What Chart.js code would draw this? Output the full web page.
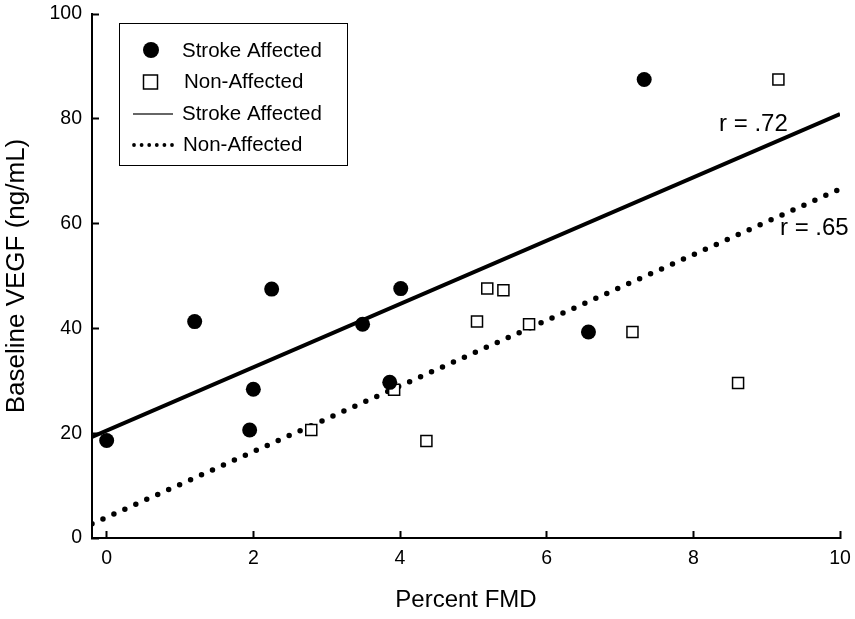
<!DOCTYPE html>
<html lang="en">
<head>
<meta charset="UTF-8">
<title>Baseline VEGF vs Percent FMD</title>
<script src="https://cdn.jsdelivr.net/npm/chart.js"></script>
<style>
    body { margin: 0; background: #fff; }
</style>
</head>
<body>
<div style="width: 855px; height: 619px;">
    <canvas id="myChart" width="855" height="619"></canvas>
</div>
<script>
    // points
    const strokeX = [0, 1.2, 1.95, 2.0, 2.25, 3.49, 3.86, 4.01, 6.57, 7.33];
    const strokeY = [18.6, 41.3, 20.6, 28.4, 47.5, 40.8, 29.7, 47.6, 39.3, 87.5];
    const nonX = [2.79, 3.92, 4.36, 5.05, 5.19, 5.41, 5.76, 7.17, 8.61, 9.16];
    const nonY = [20.6, 28.3, 18.5, 41.3, 47.6, 47.3, 40.8, 39.3, 29.6, 87.5];

    // regression lines, start and end
    const fitX = [-0.2, 10];
    const strokeFitY = [19.3, 80.9];
    const nonFitY = [2.7, 66.6];

    const xTicks = [0, 2, 4, 6, 8, 10];
    const yTicks = [0, 20, 40, 60, 80, 100];

    // r labels
    const rLabels = ['r = .72', 'r = .65'];
    const rX = [8.82, 9.65];
    const rY = [79.0, 59.0];

    const FONT = '"Liberation Sans", Arial, sans-serif';

    function toPoints(xs, ys) {
        return xs.map((x, i) => ({ x: x, y: ys[i] }));
    }

    // legend box + r labels
    const extras = {
        id: 'extras',
        afterDatasetsDraw(chart) {
            const ctx = chart.ctx;
            const sx = chart.scales.x;
            const sy = chart.scales.y;
            const ds = chart.data.datasets;
            ctx.save();
            ctx.fillStyle = '#000';
            ctx.textAlign = 'center';
            ctx.textBaseline = 'middle';
            ctx.font = '24px ' + FONT;
            rLabels.forEach((t, i) => {
                ctx.fillText(t, sx.getPixelForValue(rX[i]), sy.getPixelForValue(rY[i]));
            });

            // legend
            ctx.strokeStyle = '#000';
            ctx.lineWidth = 1;
            ctx.strokeRect(119.5, 23.5, 228, 142);

            ctx.beginPath();
            ctx.arc(151, 50, 8, 0, Math.PI * 2);
            ctx.fill();

            ctx.lineWidth = 1.5;
            ctx.strokeRect(143.5, 75, 14, 14);

            ctx.strokeStyle = '#333';
            ctx.lineWidth = 1.5;
            ctx.beginPath();
            ctx.moveTo(133, 114);
            ctx.lineTo(173, 114);
            ctx.stroke();

            for (let i = 0; i < 6; i++) {
                ctx.beginPath();
                ctx.arc(134 + i * 7.6, 145, 1.9, 0, Math.PI * 2);
                ctx.fill();
            }

            ctx.textAlign = 'left';
            ctx.font = '20.5px ' + FONT;
            ctx.fillText(ds[0].label, 182, 51);
            ctx.fillText(ds[1].label, 184, 82);
            ctx.fillText(ds[2].label, 182, 114);
            ctx.fillText(ds[3].label, 183, 145);
            ctx.restore();
        }
    };

    function drawChart(tag) {
        const ctx = document.getElementById(tag);

        const data = {
            datasets: [
                {
                    label: 'Stroke Affected',
                    data: toPoints(strokeX, strokeY),
                    pointStyle: 'circle',
                    pointRadius: 7.5,
                    backgroundColor: '#000',
                    borderWidth: 0
                },
                {
                    label: 'Non-Affected',
                    data: toPoints(nonX, nonY),
                    pointStyle: 'rect',
                    pointRadius: 7.8,
                    backgroundColor: '#fff',
                    borderColor: '#000',
                    borderWidth: 1.5
                },
                {
                    label: 'Stroke Affected',
                    data: toPoints(fitX, strokeFitY),
                    showLine: true,
                    pointRadius: 0,
                    borderColor: '#000',
                    borderWidth: 4
                },
                {
                    label: 'Non-Affected',
                    data: toPoints(fitX, nonFitY),
                    showLine: true,
                    pointRadius: 0,
                    borderColor: '#000',
                    borderWidth: 5.5,
                    borderDash: [0, 12],
                    borderCapStyle: 'round'
                }
            ]
        };

        const options = {
            responsive: false,
            animation: false,
            layout: { padding: { top: 14, right: 15, left: 0, bottom: 0 } },
            plugins: {
                legend: { display: false },
                tooltip: { enabled: false }
            },
            scales: {
                x: {
                    type: 'linear',
                    min: -0.2,
                    max: 10,
                    afterBuildTicks: (s) => { s.ticks = xTicks.map(v => ({ value: v })); },
                    afterFit: (s) => { s.height = 81; s.paddingLeft = 0; s.paddingRight = 0; },
                    grid: { drawOnChartArea: false, tickLength: -7, tickWidth: 2, color: '#000' },
                    border: { color: '#000', width: 2 },
                    ticks: { padding: 16, color: '#000', font: { size: 19.5, family: FONT } },
                    title: {
                        display: true,
                        text: 'Percent FMD',
                        color: '#000',
                        font: { size: 24, family: FONT },
                        padding: { top: 0, bottom: 4 }
                    }
                },
                y: {
                    type: 'linear',
                    min: 0,
                    max: 100,
                    afterBuildTicks: (s) => { s.ticks = yTicks.map(v => ({ value: v })); },
                    afterFit: (s) => { s.width = 92; s.paddingTop = 0; s.paddingBottom = 0; },
                    grid: { drawOnChartArea: false, tickLength: -7, tickWidth: 2, color: '#000' },
                    border: { color: '#000', width: 2 },
                    ticks: { padding: 17, color: '#000', font: { size: 19.5, family: FONT } },
                    title: {
                        display: true,
                        text: 'Baseline VEGF (ng/mL)',
                        color: '#000',
                        font: { size: 26, family: FONT },
                        padding: { top: 1, bottom: 0 }
                    }
                }
            }
        };

        new Chart(ctx, {
            type: 'scatter',
            data: data,
            options: options,
            plugins: [extras]
        });
    }

    drawChart('myChart');
</script>
</body>
</html>
